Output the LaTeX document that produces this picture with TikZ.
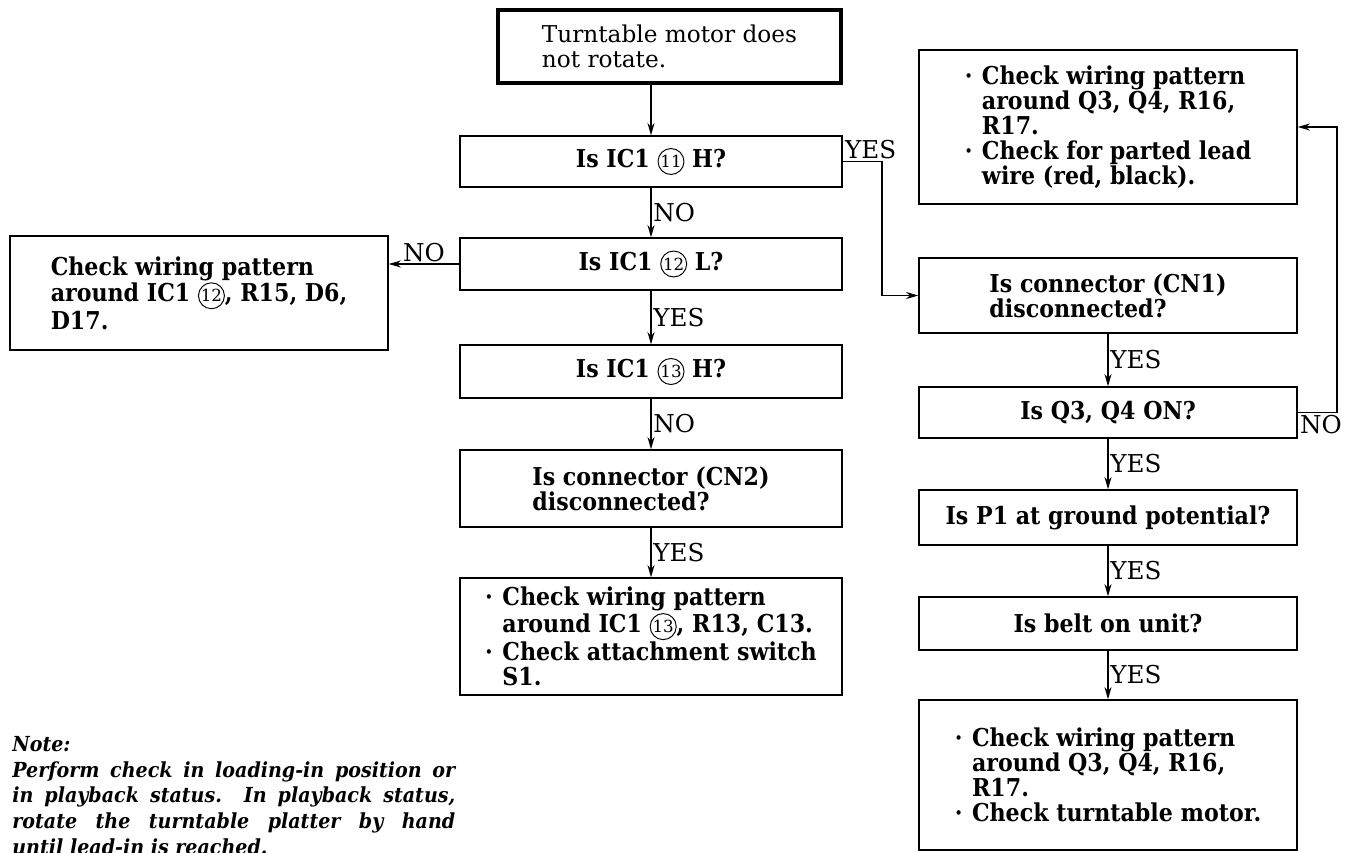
\documentclass[tikz,border=0pt]{standalone}
\usepackage{fontspec}
\setmainfont{DejaVu Serif}[BoldFeatures={FakeStretch=0.9},
  BoldItalicFeatures={FakeStretch=0.92}]
\usetikzlibrary{arrows.meta,positioning}

\newcommand{\circnum}[1]{\tikz[baseline=(cn.base), x=1cm, y=1cm]\node[draw, circle,
  line width=0.55pt, minimum width=0pt, minimum height=0pt, inner sep=0.3pt, anchor=base,
  font=\fontsize{9.5}{9.5}\selectfont\mdseries] (cn) {#1};}
\newcommand{\bul}{\makebox[0.7em][l]{·}}
\newcommand{\ind}{\hspace*{0.7em}}

\begin{document}
\begin{tikzpicture}[
  x=0.02cm, y=-0.02cm,
  font=\fontsize{14}{14.2}\selectfont,
  >={Stealth[length=7pt, width=4pt]},
  start/.style={draw, line width=2.4pt, minimum width=6.86cm, minimum height=1.46cm,
    inner sep=0pt, align=left, font=\fontsize{13.2}{14.2}\selectfont},
  query/.style={draw, line width=0.8pt, minimum width=7.64cm, inner sep=0pt,
    align=left, font=\fontsize{14}{14.2}\selectfont\bfseries},
  action/.style={draw, line width=0.8pt, minimum width=7.56cm, inner sep=0pt,
    align=left, font=\fontsize{14}{14.2}\selectfont\bfseries},
  flow/.style={->, line width=0.8pt},
  edgelabel/.style={inner sep=1pt, font=\fontsize{14}{14}\selectfont}
]
  \clip (0,0) rectangle (1354,852);

  % left column
  \node[start] (start) at (669.5,46.5) {Turntable motor does\\not rotate.};
  \node[query, minimum height=1.02cm] (q11) at (651,161.5) {Is IC1 \circnum{11} H?};
  \node[query, minimum height=1.04cm] (q12) at (651,264) {Is IC1 \circnum{12} L?};
  \node[query, minimum height=1.06cm] (q13) at (651,371.5) {Is IC1 \circnum{13} H?};
  \node[query, minimum height=1.54cm] (cn2) at (651,488.5)
    {Is connector (CN2)\\disconnected?};
  \node[query, minimum height=2.34cm] (endL) at (651,636.5)
    {\bul Check wiring pattern\\\ind around IC1 \circnum{13}, R13, C13.\\
     \bul Check attachment switch\\\ind S1.};
  \node[action, minimum height=2.28cm] (checkL) at (199,293)
    {Check wiring pattern\\around IC1 \circnum{12}, R15, D6,\\D17.};

  % right column
  \node[action, minimum height=3.08cm] (rtop) at (1108,127)
    {\bul Check wiring pattern\\\ind around Q3, Q4, R16,\\\ind R17.\\
     \bul Check for parted lead\\\ind wire (red, black).};
  \node[action, minimum height=1.5cm] (cn1) at (1108,295.5)
    {Is connector (CN1)\\disconnected?};
  \node[action, minimum height=1.02cm] (q34) at (1108,412.5) {Is Q3, Q4 ON?};
  \node[action, minimum height=1.1cm] (p1) at (1108,517.5) {Is P1 at ground potential?};
  \node[action, minimum height=1.06cm] (belt) at (1108,623.5) {Is belt on unit?};
  \node[action, minimum height=3.0cm] (endR) at (1108,775)
    {\bul Check wiring pattern\\\ind around Q3, Q4, R16,\\\ind R17.\\
     \bul Check turntable motor.};

  \node[anchor=north west, text width=8.86cm, align=justify, inner sep=0pt,
    font=\fontsize{11.8}{14.6}\selectfont\bfseries\itshape] (note) at (12,736)
    {Note:\\Perform check in loading-in position or\linebreak in playback status.
     In playback status,\linebreak rotate the turntable platter by hand\linebreak
     until lead-in is reached.};

  \coordinate (yesturn) at (882,157);
  \coordinate (noturn) at (1337,412);

  \draw[flow] (q11.north |- start.south) -- (q11.north);
  \draw[flow] (q11) -- node[midway, right, edgelabel] {NO} (q12);
  \draw[flow] (q12) -- node[midway, right, edgelabel] {YES} (q13);
  \draw[flow] (q13) -- node[midway, right, edgelabel] {NO} (cn2);
  \draw[flow] (cn2) -- node[midway, right, edgelabel] {YES} (endL);
  \draw[flow] (q12.west) -- node[midway, above, edgelabel] {NO} (q12.west -| checkL.east);
  \draw[flow] (q11.east) -- node[at start, anchor=south west, edgelabel] {YES}
    (q11.east -| yesturn) -- (yesturn |- cn1.west) -- (cn1.west);
  \draw[flow] (cn1) -- node[midway, right, edgelabel] {YES} (q34);
  \draw[flow] (q34) -- node[midway, right, edgelabel] {YES} (p1);
  \draw[flow] (p1) -- node[midway, right, edgelabel] {YES} (belt);
  \draw[flow] (belt) -- node[midway, right, edgelabel] {YES} (endR);
  \draw[flow] (q34.east) -- node[at start, anchor=north west, edgelabel] {NO}
    (q34.east -| noturn) -- (noturn |- rtop.east) -- (rtop.east);
\end{tikzpicture}
\end{document}
